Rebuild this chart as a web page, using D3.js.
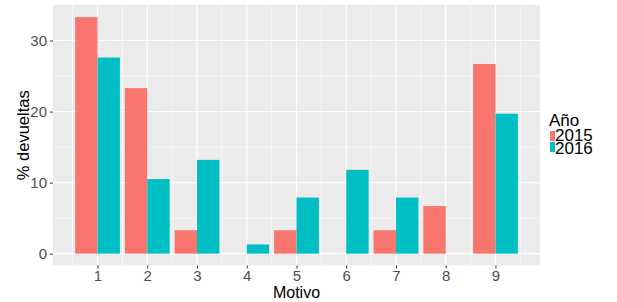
<!DOCTYPE html>
<html>
<head>
<meta charset="utf-8">
<script src="https://cdn.jsdelivr.net/npm/d3@7"></script>
<style>
  body { margin: 0; background: #fff; }
  svg { font-family: "Liberation Sans", Arial, sans-serif; }
</style>
</head>
<body>
<svg id="chart" width="617" height="302"></svg>
<script>
// data
const motivos = [1, 2, 3, 4, 5, 6, 7, 8, 9];
const years = ["2015", "2016"];
const pct2015 = [33.3, 23.3, 3.3, 0, 3.3, 0, 3.3, 6.7, 26.7];
const pct2016 = [27.6, 10.5, 13.2, 1.3, 7.9, 11.8, 7.9, 0, 19.7];
const yTicks = [0, 10, 20, 30];
const colors = ["#F8766D", "#00BFC4"];

let svg = d3.select("#chart");

// panel box
let panel = { left: 53, right: 540, top: 5, bottom: 265.5 };

let x = d3.scaleLinear().domain([0.105, 9.895]).range([panel.left, panel.right]);
let y = d3.scaleLinear().domain([-1.667, 35]).range([panel.bottom, panel.top]);

svg.append("rect")
  .attr("x", panel.left).attr("y", panel.top)
  .attr("width", panel.right - panel.left).attr("height", panel.bottom - panel.top)
  .attr("fill", "#EBEBEB");

// grid: minor first, then major
let xMinor = motivos.map(d => d - 0.5).concat([9.5]);
let yMinor = [5, 15, 25];

svg.selectAll("line.xminor").data(xMinor).enter().append("line")
  .attr("x1", d => x(d)).attr("x2", d => x(d))
  .attr("y1", panel.top).attr("y2", panel.bottom)
  .attr("stroke", "#fff").attr("stroke-width", 0.6);
svg.selectAll("line.yminor").data(yMinor).enter().append("line")
  .attr("x1", panel.left).attr("x2", panel.right)
  .attr("y1", d => y(d)).attr("y2", d => y(d))
  .attr("stroke", "#fff").attr("stroke-width", 0.6);
svg.selectAll("line.xmajor").data(motivos).enter().append("line")
  .attr("x1", d => x(d)).attr("x2", d => x(d))
  .attr("y1", panel.top).attr("y2", panel.bottom)
  .attr("stroke", "#fff").attr("stroke-width", 1.1);
svg.selectAll("line.ymajor").data(yTicks).enter().append("line")
  .attr("x1", panel.left).attr("x2", panel.right)
  .attr("y1", d => y(d)).attr("y2", d => y(d))
  .attr("stroke", "#fff").attr("stroke-width", 1.1);

// bars (dodged, width 0.9 total)
let bars = [];
motivos.forEach((m, i) => {
  bars.push({ m: m, k: 0, v: pct2015[i] });
  bars.push({ m: m, k: 1, v: pct2016[i] });
});
svg.selectAll("rect.bar").data(bars.filter(d => d.v > 0)).enter().append("rect")
  .attr("x", d => x(d.m - 0.45 + d.k * 0.45))
  .attr("width", d => x(0.45) - x(0))
  .attr("y", d => y(d.v))
  .attr("height", d => y(0) - y(d.v))
  .attr("fill", d => colors[d.k]);

// axes
let xAxis = d3.axisBottom(x).tickValues(motivos).tickSize(3).tickPadding(2);
let gx = svg.append("g").attr("transform", `translate(0,${panel.bottom})`).call(xAxis);
let yAxis = d3.axisLeft(y).tickValues(yTicks).tickSize(3).tickPadding(3);
let gy = svg.append("g").attr("transform", `translate(${panel.left},0)`).call(yAxis);
[gx, gy].forEach(g => {
  g.select(".domain").remove();
  g.selectAll(".tick line").attr("stroke", "#333");
  g.selectAll(".tick text").attr("fill", "#4D4D4D")
    .style("font-size", "15px").style("font-family", "Liberation Sans, Arial, sans-serif");
});

// axis titles
svg.append("text")
  .attr("x", (panel.left + panel.right) / 2).attr("y", 298)
  .attr("text-anchor", "middle").style("font-size", "16px")
  .text("Motivo");
svg.append("text")
  .attr("transform", `translate(29,${(panel.top + panel.bottom) / 2}) rotate(-90)`)
  .attr("text-anchor", "middle").style("font-size", "16.5px")
  .text("% devueltas");

// legend
let legend = svg.append("g");
legend.append("text").attr("x", 549).attr("y", 126)
  .style("font-size", "17px").text("Año");
years.forEach((yr, i) => {
  legend.append("rect")
    .attr("x", 550).attr("y", 131 + i * 11)
    .attr("width", 5).attr("height", 10)
    .attr("fill", colors[i]);
  legend.append("text")
    .attr("x", 555).attr("y", 141 + i * 12.5)
    .style("font-size", "17px").text(yr);
});
</script>
</body>
</html>
